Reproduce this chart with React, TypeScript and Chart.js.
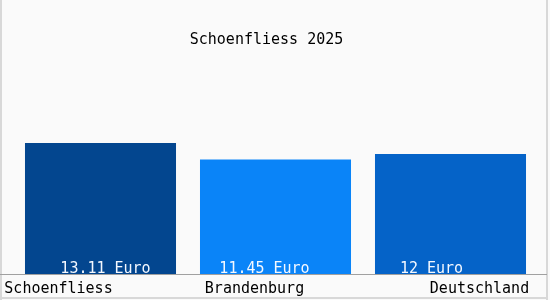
import React, { useEffect, useRef } from "react";
import { Chart, registerables } from "chart.js";

Chart.register(...registerables);

const title = "Schoenfliess 2025";
const categories = ["Schoenfliess", "Brandenburg", "Deutschland"];
const values = [13.11, 11.45, 12];
const valueLabels = ["13.11 Euro", "11.45 Euro", "12 Euro"];
const barColors = ["#03468f", "#0a84f8", "#0563c8"];

const FONT = "15px 'DejaVu Sans Mono'";

const decorPlugin = {
  id: "decor",
  beforeDraw(chart: any) {
    const { ctx, width, height } = chart;
    ctx.save();
    ctx.fillStyle = "#fafafa";
    ctx.fillRect(0, 0, width, height);
    ctx.fillStyle = "#d8d8d8";
    ctx.fillRect(0, 0, 2, height);
    ctx.fillRect(width - 4, 0, 2, height);
    ctx.fillRect(0, height - 3, width - 2, 2);
    ctx.restore();
  },
  afterDatasetsDraw(chart: any, _args: any, opts: any) {
    const { ctx, chartArea, width } = chart;
    const meta = chart.getDatasetMeta(0);
    ctx.save();
    ctx.font = FONT;
    // axis line
    ctx.fillStyle = "#a0a0a0";
    ctx.fillRect(0, chartArea.bottom, width - 3, 1);
    // value labels
    ctx.fillStyle = "#f4f8ff";
    ctx.textAlign = "center";
    ctx.textBaseline = "alphabetic";
    meta.data.forEach((bar: any, i: number) => {
      ctx.fillText(valueLabels[i], bar.x + opts.valueOffsets[i], chartArea.bottom - 1);
    });
    // category labels
    ctx.fillStyle = "#000";
    meta.data.forEach((bar: any, i: number) => {
      ctx.fillText(categories[i], bar.x + opts.catOffsets[i], chartArea.bottom + 19);
    });
    // title
    ctx.fillText(title, (chartArea.left + chartArea.right) / 2 - 9, 44);
    ctx.restore();
  },
};

export default function App() {
  const ref = useRef<HTMLCanvasElement>(null);
  useEffect(() => {
    document.body.style.margin = "0";
    const chart = new Chart(ref.current!, {
      type: "bar",
      data: {
        labels: categories,
        datasets: [
          {
            data: values,
            backgroundColor: barColors,
            borderWidth: 0,
            barPercentage: 0.863,
            categoryPercentage: 1,
          },
        ],
      },
      options: {
        responsive: false,
        animation: false,
        layout: { padding: { left: 13, right: 12, top: 74, bottom: 26 } },
        scales: {
          x: { display: false },
          y: { display: false, min: 0, max: 20 },
        },
        plugins: {
          legend: { display: false },
          tooltip: { enabled: false },
          title: { display: false },
          decor: {
            valueOffsets: [5, -11, -19],
            catOffsets: [-42, -21, 29],
          },
        } as any,
      },
      plugins: [decorPlugin],
    });
    return () => chart.destroy();
  }, []);
  return (
    <div style={{ width: 550, height: 300 }}>
      <canvas ref={ref} width={550} height={300} />
    </div>
  );
}
